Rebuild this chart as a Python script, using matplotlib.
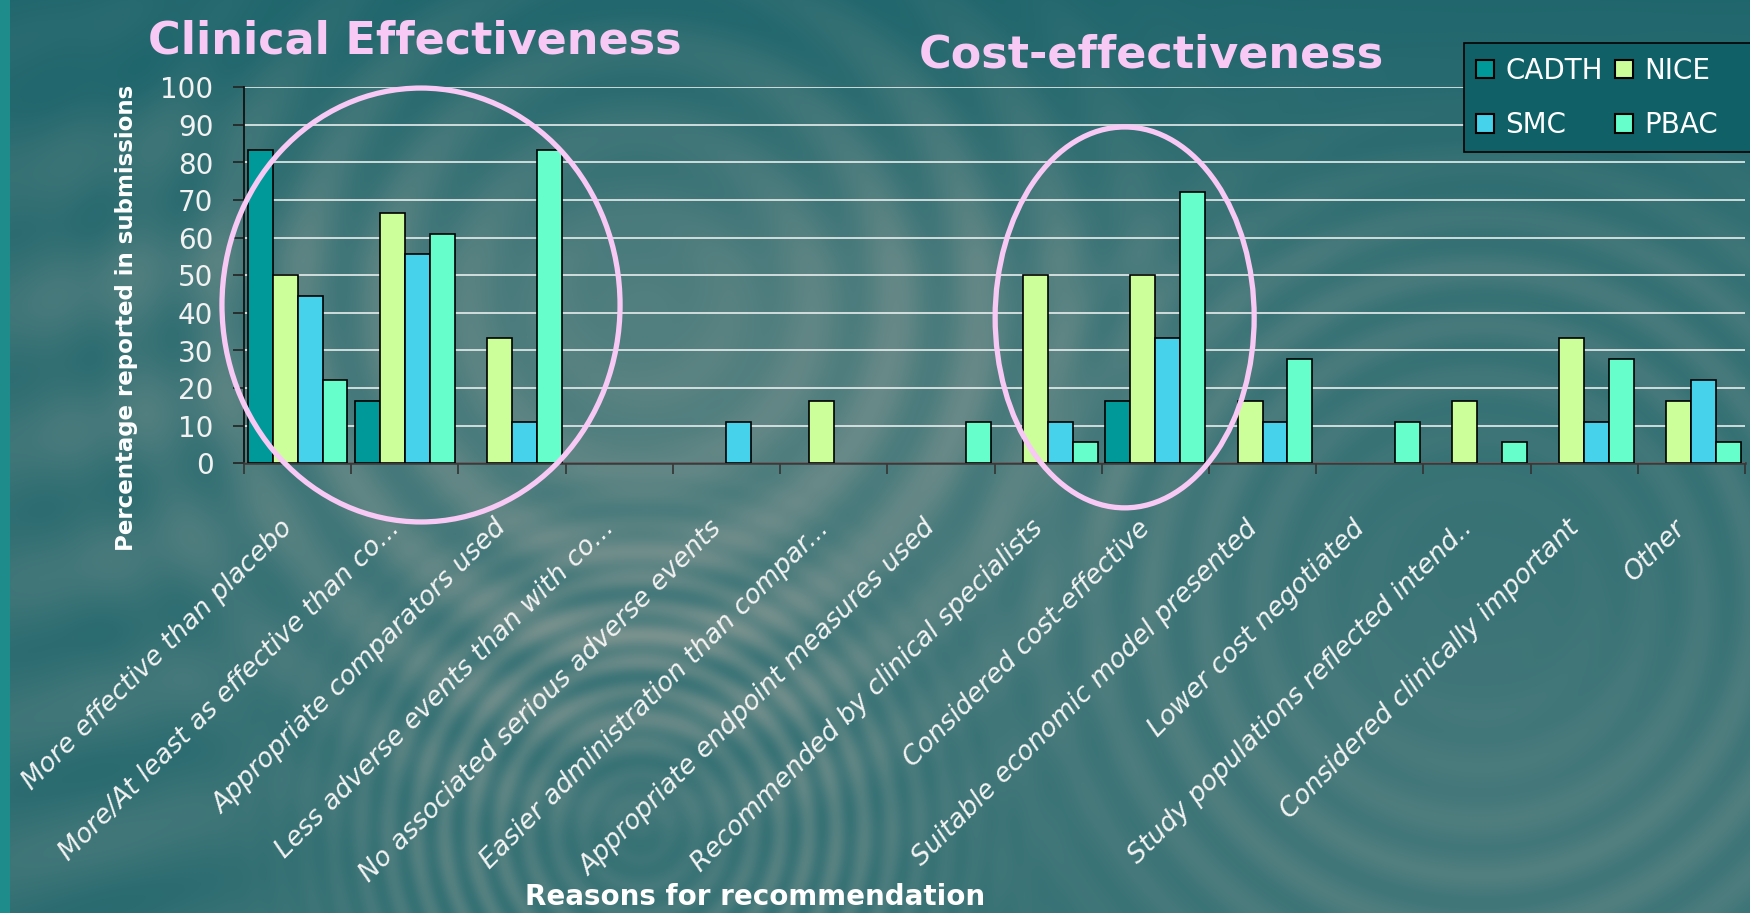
import numpy as np
import matplotlib
matplotlib.use("Agg")
import matplotlib.pyplot as plt
from matplotlib.patches import Ellipse, Patch, Rectangle
from matplotlib.transforms import ScaledTranslation

# Reasons for recommendation, % of submissions per agency
categories = [
    "More effective than placebo",
    "More/At least as effective than co...",
    "Appropriate comparators used",
    "Less adverse events than with co...",
    "No associated serious adverse events",
    "Easier administration than compar...",
    "Appropriate endpoint measures used",
    "Recommended by clinical specialists",
    "Considered cost-effective",
    "Suitable economic model presented",
    "Lower cost negotiated",
    "Study populations reflected intend..",
    "Considered clinically important",
    "Other",
]
agencies = ["CADTH", "NICE", "SMC", "PBAC"]
cadth = [83.3, 16.7, 0, 0, 0, 0, 0, 0, 16.7, 0, 0, 0, 0, 0]
nice = [50.0, 66.7, 33.3, 0, 0, 16.7, 0, 50.0, 50.0, 16.7, 0, 16.7, 33.3, 16.7]
smc = [44.4, 55.6, 11.1, 0, 11.1, 0, 0, 11.1, 33.3, 11.1, 0, 0, 11.1, 22.2]
pbac = [22.2, 61.1, 83.3, 0, 0, 0, 11.1, 5.6, 72.2, 27.8, 11.1, 5.6, 27.8, 5.6]
yticks = list(range(0, 101, 10))

bar_colors = ["#009999", "#CCFF99", "#46D2EB", "#66FFCC"]
pink = "#F9C9F5"

W, H = 1750, 913
fig = plt.figure(figsize=(W / 100, H / 100), dpi=100)

# --- teal "water ripple" backdrop ---
yy, xx = np.mgrid[0:H, 0:W].astype(float)
dark = np.array([14, 94, 102]) / 255
light = np.array([130, 150, 145]) / 255


def rings(cx, cy, period, r0, r1, amp):
    r = np.hypot(xx - cx, yy - cy)
    env = np.exp(-((r - (r0 + r1) / 2) / ((r1 - r0) / 2)) ** 2)
    return amp * env * (0.5 + 0.5 * np.cos(2 * np.pi * r / period))


t = np.full((H, W), 0.34)
t += 0.25 * np.exp(-(((xx - 700) / 420) ** 2 + ((yy - 380) / 260) ** 2))
t += 0.12 * np.exp(-(((xx - 1500) / 400) ** 2 + ((yy - 800) / 200) ** 2))
t += rings(640, 300, 85, 120, 520, 0.25)
t += rings(640, 830, 28, 60, 300, 0.25)
t += rings(1480, 600, 55, 160, 480, 0.15)
t += 0.10 * np.sin(yy / 22 + xx / 90) * np.exp(-((xx - 100) / 160) ** 2)
t *= 0.45 + 0.55 * np.clip(yy / 260, 0, 1)
t = np.clip(t, 0, 1)
bg = dark[None, None, :] + (light - dark)[None, None, :] * t[..., None]
bg[:, :10] = np.array([31, 140, 140]) / 255

bg_ax = fig.add_axes([0, 0, 1, 1], zorder=-10)
bg_ax.imshow(bg, aspect="auto", interpolation="bilinear")
bg_ax.axis("off")

# --- main chart ---
ax = fig.add_axes([244 / W, (H - 463.3) / H, (1745 - 244) / W, (463.3 - 87.3) / H])
ax.set_facecolor("none")

x = np.arange(len(categories))
group = 0.93
w = group / 4
for i, (vals, name) in enumerate(zip([cadth, nice, smc, pbac], agencies)):
    # empty categories get no outline so nothing shows on the baseline
    lws = [1.2 if v > 0 else 0 for v in vals]
    ax.bar(x + (i - 1.5) * w, vals, width=w, color=bar_colors[i],
           edgecolor="black", linewidth=lws, zorder=3, label=name)

ax.set_xlim(-0.5, len(categories) - 0.5)
ax.set_ylim(0, 100)
ax.set_yticks(yticks)
ax.set_yticklabels([str(v) for v in yticks], fontsize=20, color="#F2F2F2")
ax.tick_params(axis="y", length=8, width=1.2, color="#222222", pad=14)
ax.yaxis.grid(True, color="#E8EEEE", linewidth=1.4, alpha=0.85, zorder=1)
ax.set_axisbelow(True)

ax.set_xticks(x)
ax.set_xticklabels(categories, rotation=45, ha="right", va="center",
                   rotation_mode="anchor", fontsize=19, style="italic",
                   color="#F2F2F2")
ax.tick_params(axis="x", which="major", length=0, pad=44)
shift = ScaledTranslation(-0.09, 0, fig.dpi_scale_trans)
for lab in ax.get_xticklabels():
    lab.set_transform(lab.get_transform() + shift)
ax.set_xticks(np.arange(-0.5, len(categories)), minor=True)
ax.tick_params(axis="x", which="minor", length=8, width=1.2, color="#333333")

for side in ["top", "right"]:
    ax.spines[side].set_visible(False)
ax.spines["left"].set_color("#111111")
ax.spines["left"].set_linewidth(1.3)
ax.spines["bottom"].set_color("#3A3A3A")
ax.spines["bottom"].set_linewidth(1.8)

ax.set_ylabel("Percentage reported in submissions", fontsize=16.5,
              fontweight="bold", color="white", labelpad=0)
ax.yaxis.set_label_coords(-(244 - 138) / (1745 - 244), 0.5 - 43 / 376)
fig.text(755 / W, 1 - 897 / H, "Reasons for recommendation", fontsize=20,
         fontweight="bold", color="white", ha="center", va="center")

# highlight ellipses
ax.add_patch(Ellipse((1.151, 42.1), 3.713, 115.4, fill=False, edgecolor=pink,
                     linewidth=3.8, zorder=6, clip_on=False))
ax.add_patch(Ellipse((7.714, 38.8), 2.416, 101.3, fill=False, edgecolor=pink,
                     linewidth=3.8, zorder=6, clip_on=False))

# section titles
fig.text(148 / W, 1 - 53 / H, "Clinical Effectiveness", fontsize=32,
         fontweight="bold", color=pink, ha="left", va="baseline")
fig.text(919 / W, 1 - 68 / H, "Cost-effectiveness", fontsize=32,
         fontweight="bold", color=pink, ha="left", va="baseline")

# legend box runs off the right edge of the slide
fig.patches.append(Rectangle((1464 / W, 1 - 152 / H), (1770 - 1464) / W,
                             109 / H, transform=fig.transFigure,
                             facecolor="#0F6167", edgecolor="black",
                             linewidth=1.2, zorder=5))

# legend: row 1 CADTH / NICE, row 2 SMC / PBAC
order = [0, 2, 1, 3]
handles = [Patch(facecolor=bar_colors[k], edgecolor="black", linewidth=1.5)
           for k in order]
leg = fig.legend(handles, [agencies[k] for k in order], ncol=2,
                 loc="upper left", bbox_to_anchor=(1462 / W, 1 - 43 / H),
                 fontsize=20, frameon=False,
                 handlelength=0.65, handleheight=0.65, handletextpad=0.4,
                 columnspacing=0.45, labelspacing=0.95, borderpad=0.5,
                 borderaxespad=0)
leg.set_zorder(6)
for txt in leg.get_texts():
    txt.set_color("white")

fig.savefig("out.png", dpi=100)
